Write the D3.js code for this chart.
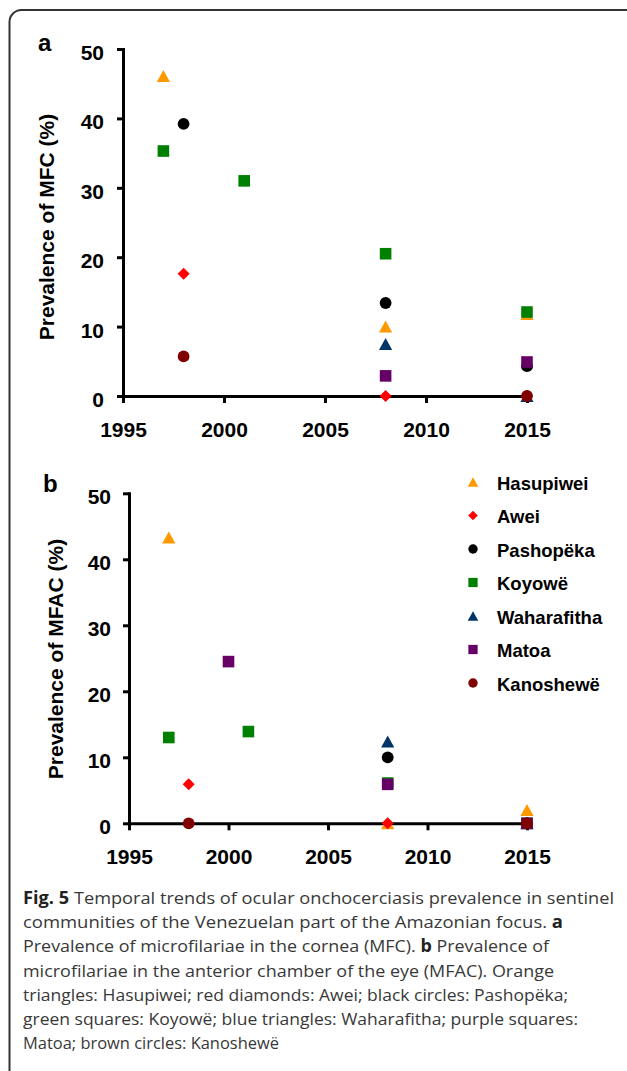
<!DOCTYPE html>
<html>
<head>
<meta charset="utf-8">
<script src="https://cdn.jsdelivr.net/npm/d3@7"></script>
<style>
body{margin:0;background:#fff;}
svg text{font-family:"Liberation Sans",Arial,sans-serif;font-weight:bold;fill:#000;}
.axis path,.axis line{stroke:#000;stroke-width:3;}
.axis path{stroke-linecap:square;}
.axis text{font-size:21px;}
svg text.caption{font-family:"Open Sans",sans-serif;font-weight:normal;fill:#383838;font-size:17px;}
</style>
</head>
<body>
<div id="chart"></div>
<script>
// data
var communities = ["Hasupiwei","Awei","Pashopëka","Koyowë","Waharafitha","Matoa","Kanoshewë"];
var xTickYears = [1995,2000,2005,2010,2015];
var yTickValues = [0,10,20,30,40,50];

// panel a, prevalence of MFC (%): [community, year, value]
var mfcPoints = [
  ["Hasupiwei",1997,46.1],["Hasupiwei",2008,10.0],["Hasupiwei",2015,11.8],
  ["Awei",1998,17.6],["Awei",2008,0],["Awei",2015,0],
  ["Pashopëka",1998,39.2],["Pashopëka",2008,13.4],["Pashopëka",2015,4.3],
  ["Koyowë",1997,35.3],["Koyowë",2001,31.0],["Koyowë",2008,20.5],["Koyowë",2015,12.1],
  ["Waharafitha",2008,7.5],["Waharafitha",2015,0],
  ["Matoa",2008,2.9],["Matoa",2015,4.9],
  ["Kanoshewë",1998,5.7],["Kanoshewë",2015,0]
];

// panel b, prevalence of MFAC (%)
var mfacPoints = [
  ["Hasupiwei",1997,43.3],["Hasupiwei",2008,0],["Hasupiwei",2015,2.0],
  ["Awei",1998,5.9],["Awei",2008,0],["Awei",2015,0],
  ["Pashopëka",2008,10.0],["Pashopëka",2015,0],
  ["Koyowë",1997,13.0],["Koyowë",2001,13.9],["Koyowë",2008,6.1],["Koyowë",2015,0],
  ["Waharafitha",2008,12.4],["Waharafitha",2015,0],
  ["Matoa",2000,24.5],["Matoa",2008,5.9],["Matoa",2015,0],
  ["Kanoshewë",1998,0],["Kanoshewë",2015,0]
];

var captionLines = [
  [["Fig. 5",true],[" Temporal trends of ocular onchocerciasis prevalence in sentinel",false]],
  [["communities of the Venezuelan part of the Amazonian focus. ",false],["a",true]],
  [["Prevalence of microfilariae in the cornea (MFC). ",false],["b",true],[" Prevalence of",false]],
  [["microfilariae in the anterior chamber of the eye (MFAC). Orange",false]],
  [["triangles: Hasupiwei; red diamonds: Awei; black circles: Pashopëka;",false]],
  [["green squares: Koyowë; blue triangles: Waharafitha; purple squares:",false]],
  [["Matoa; brown circles: Kanoshewë",false]]
];

// marker styles, same order as communities
var markerColors = ["#FF9900","#FF0000","#000000","#008000","#003366","#660066","#800000"];
var markerShapes = ["triangle","diamond","circle","square","triangle","square","circle"];

var svg = d3.select("#chart").append("svg").attr("width", 627).attr("height", 1071);

// frame round the figure
svg.append("path")
  .attr("d","M9.5,1071V22A12,12 0 0 1 21.5,10H627")
  .attr("fill","none").attr("stroke","#333").attr("stroke-width",2);

function shapePath(shape, k){
  var s = 6*k;
  if(shape=="triangle") return "M0,"+(-s)+"L"+(s*1.1)+","+s+"L"+(-s*1.1)+","+s+"Z";
  if(shape=="diamond") return "M0,"+(-s)+"L"+s+",0L0,"+s+"L"+(-s)+",0Z";
  if(shape=="square"){ var q=5.8*k; return "M"+(-q)+","+(-q)+"H"+q+"V"+q+"H"+(-q)+"Z"; }
  var r = 5.9*k;
  return "M"+r+",0A"+r+","+r+" 0 1 1 "+(-r)+",0A"+r+","+r+" 0 1 1 "+r+",0Z";
}

function drawPanel(p){
  var x = d3.scaleLinear().domain([1995,2015]).range([p.x0, 527]);
  var y = d3.scaleLinear().domain([0,50]).range([p.y0, p.y1]);
  var g = svg.append("g");

  g.append("g").attr("class","axis")
    .attr("transform","translate(0,"+p.y0+")")
    .call(d3.axisBottom(x).tickValues(xTickYears).tickFormat(d3.format("d"))
      .tickSize(7).tickSizeOuter(0).tickPadding(19));

  g.append("g").attr("class","axis")
    .attr("transform","translate("+p.x0+",0)")
    .call(d3.axisLeft(y).tickValues(yTickValues).tickSize(6).tickSizeOuter(0).tickPadding(p.yPad))
    .selectAll("text").attr("dy","0.5em");

  g.selectAll(".domain").attr("stroke-width",3);

  g.append("text")
    .attr("transform","translate("+p.titleX+","+p.titleY+") rotate(-90)")
    .attr("text-anchor","middle").attr("font-size",21)
    .text(p.title);

  g.append("text").attr("x",p.lx).attr("y",p.ly).attr("font-size",24).text(p.letter);

  g.selectAll(".pt").data(p.points).enter().append("path")
    .attr("class","pt")
    .attr("transform",function(d){ return "translate("+x(d[1])+","+y(d[2])+")"; })
    .attr("d",function(d){ return shapePath(markerShapes[communities.indexOf(d[0])],1); })
    .attr("fill",function(d){ return markerColors[communities.indexOf(d[0])]; });
}

drawPanel({x0:123, y0:396, y1:49, yPad:13, points:mfcPoints,
  title:"Prevalence of MFC (%)", titleX:54, titleY:227, letter:"a", lx:38, ly:51});
drawPanel({x0:129, y0:823.3, y1:493.3, yPad:12, points:mfacPoints,
  title:"Prevalence of MFAC (%)", titleX:63, titleY:659, letter:"b", lx:43, ly:492});

// legend (panel b)
var legend = svg.append("g").selectAll("g").data(communities).enter().append("g")
  .attr("transform",function(d,i){ return "translate(473,"+(483+i*33.5)+")"; });
legend.append("path")
  .attr("d",function(d,i){ return shapePath(markerShapes[i],0.8); })
  .attr("transform","translate(0,-1)")
  .attr("fill",function(d,i){ return markerColors[i]; });
legend.append("text").attr("x",24).attr("y",6.5).attr("font-size",18.5).text(function(d){ return d; });

// caption
var lineEnds = [614,563,549,554,568,578,279];
captionLines.forEach(function(parts,i){
  var t = svg.append("text").attr("class","caption")
    .attr("x",23).attr("y",904+i*24.2)
    .attr("textLength",lineEnds[i]-23).attr("lengthAdjust","spacingAndGlyphs");
  parts.forEach(function(p){
    t.append("tspan").text(p[0])
      .attr("font-weight",p[1]?"bold":"normal")
      .attr("fill",p[1]?"#222":"#383838");
  });
});
</script>
</body>
</html>
